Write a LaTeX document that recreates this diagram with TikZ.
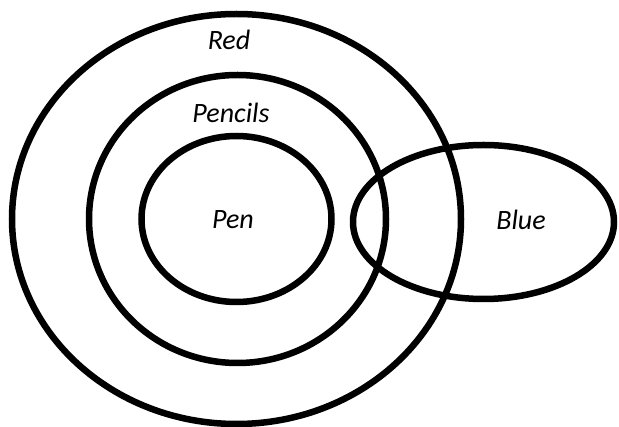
\documentclass[tikz,border=0pt]{standalone}
\usepackage{fontspec}
\setmainfont{Carlito}
\begin{document}
\begin{tikzpicture}[x=1pt,y=-1pt,
  setline/.style={line width=6.5pt,black},
  setlabel/.style={font=\itshape\fontsize{28}{30}\selectfont,inner sep=0pt}]
\useasboundingbox (0,0) rectangle (619,427);
\draw[setline] (236.5,219) ellipse [x radius=224.5pt, y radius=205pt];
\draw[setline] (237.5,219) ellipse [x radius=148.5pt, y radius=144pt];
\draw[setline] (236.5,219) ellipse [x radius=95pt, y radius=83pt];
\draw[setline] (483.5,222) ellipse [x radius=130.5pt, y radius=77pt];
\node[setlabel] (red) at (229,40) {Red};
\node[setlabel] (pencils) at (231,113) {Pencils};
\node[setlabel] (pen) at (233,220) {Pen};
\node[setlabel] (blue) at (521,220) {Blue};
\end{tikzpicture}
\end{document}
